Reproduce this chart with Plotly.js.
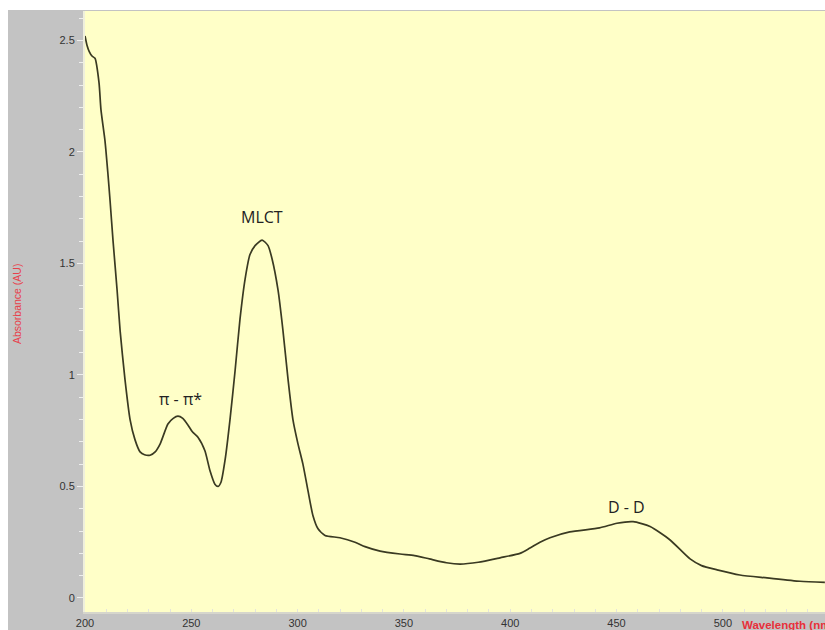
<!DOCTYPE html>
<html>
<head>
<meta charset="utf-8">
<script src="https://cdn.plot.ly/plotly-3.0.1.min.js"></script>
<style>
  html, body { margin: 0; padding: 0; background: #ffffff; width: 825px; height: 630px; overflow: hidden; }
  #chart { position: absolute; left: 8px; top: 10px; width: 817px; height: 620px; }
</style>
</head>
<body>
<div id="chart"></div>
<script>
// UV-Vis absorption spectrum
const wavelength = [
  200, 200.9, 202, 203.3, 204.7, 206.6, 207.5, 209.4, 210.8, 211.8,
  213.2, 215.1, 216.5, 218.8, 221.2, 223.5, 225.9, 228, 230.6, 233,
  235.3, 239, 241.5, 243.7, 246, 248.4, 250.5, 253.2, 256.4, 258.8,
  261.1, 262.6, 264, 265.9, 268.2, 270.6, 272.9, 275.3, 277.6, 280,
  283.3, 286.1, 288, 290.8, 293.1, 295.5, 297.8, 300.2, 302.5, 304.9,
  307.2, 309.6, 312.9, 319.9, 327, 331.7, 338.8, 348.2, 355, 362,
  370, 376.4, 385, 395.2, 404.6, 409.3, 414, 418.7, 428, 442,
  450.2, 457.8, 465.8, 475.2, 484.6, 490, 497.3, 508, 520.8,
  536.3, 548
];
const absorbance = [
  2.52, 2.48, 2.45, 2.43, 2.42, 2.31, 2.19, 2.05, 1.90, 1.78,
  1.60, 1.38, 1.20, 0.98, 0.80, 0.71, 0.655, 0.642, 0.640, 0.655,
  0.69, 0.78, 0.805, 0.815, 0.805, 0.776, 0.745, 0.72, 0.66, 0.57,
  0.51, 0.50, 0.52, 0.62, 0.80, 1.02, 1.25, 1.43, 1.54, 1.58,
  1.605, 1.58, 1.52, 1.38, 1.20, 0.98, 0.80, 0.69, 0.60, 0.48,
  0.37, 0.31, 0.28, 0.27, 0.25, 0.23, 0.21, 0.197, 0.19, 0.175,
  0.158, 0.152, 0.16, 0.18, 0.20, 0.224, 0.25, 0.27, 0.296, 0.314,
  0.335, 0.342, 0.32, 0.26, 0.175, 0.145, 0.126, 0.103, 0.09,
  0.075, 0.07
];

// Band labels and where they sit
const bandLabels = ["π - π*", "MLCT", "D - D"];
const bandLabelX = [244.7, 283.3, 454.5];
const bandLabelY = [0.892, 1.708, 0.408];

const xTickVals = [200, 250, 300, 350, 400, 450, 500];
const yTickVals = [0, 0.5, 1, 1.5, 2, 2.5];
const yTickText = ["0", "0.5", "1", "1.5", "2", "2.5"];

const trace = {
  x: wavelength,
  y: absorbance,
  type: "scatter",
  mode: "lines",
  line: { color: "#3a3a22", width: 1.7, shape: "spline", smoothing: 0.6 },
  hoverinfo: "skip"
};

const annotations = bandLabels.map((t, i) => ({
  x: bandLabelX[i], y: bandLabelY[i], xref: "x", yref: "y",
  text: t, showarrow: false,
  font: { family: "Open Sans, Noto Sans, sans-serif", size: 16, color: "#222222" }
}));

annotations.push({
  x: 0.885, y: -0.0216, xref: "paper", yref: "paper",
  xanchor: "left", yanchor: "middle",
  text: "<b>Wavelength (nm)</b>", showarrow: false,
  font: { family: "Liberation Sans, Arial, sans-serif", size: 11.5, color: "#e8303a" }
});
annotations.push({
  x: -0.0919, y: 0.514, xref: "paper", yref: "paper",
  xanchor: "center", yanchor: "middle", textangle: -90,
  text: "Absorbance (AU)", showarrow: false,
  font: { family: "Liberation Sans, Arial, sans-serif", size: 10.5, color: "#e8404a" }
});

const layout = {
  width: 817,
  height: 620,
  margin: { l: 77, r: 0, t: 1, b: 18, pad: 0 },
  paper_bgcolor: "#c3c3c3",
  plot_bgcolor: "#ffffc8",
  showlegend: false,
  font: { family: "Liberation Sans, Arial, sans-serif", size: 11, color: "#333333" },
  xaxis: {
    range: [200, 548.06],
    tickmode: "array",
    tickvals: xTickVals,
    ticktext: xTickVals.map(String),
    ticks: "inside",
    ticklen: 3,
    tickcolor: "#e4e4dc",
    tickwidth: 1,
    minor: { dtick: 10, ticks: "inside", ticklen: 3, tickcolor: "#e4e4dc", tickwidth: 1, showgrid: false },
    showgrid: false,
    zeroline: false,
    showline: true,
    linecolor: "#d6d6cc",
    linewidth: 2,
    tickfont: { size: 11, color: "#333333" },
    fixedrange: true
  },
  yaxis: {
    range: [-0.063, 2.632],
    tickmode: "array",
    tickvals: yTickVals,
    ticktext: yTickText,
    ticks: "outside",
    ticklen: 6,
    tickcolor: "#eeeeee",
    tickwidth: 1,
    minor: { dtick: 0.1, ticks: "outside", ticklen: 4, tickcolor: "#eeeeee", tickwidth: 1, showgrid: false },
    showgrid: false,
    zeroline: false,
    showline: true,
    linecolor: "#efefdc",
    linewidth: 2,
    tickfont: { size: 11, color: "#333333" },
    fixedrange: true
  },
  annotations: annotations
};

Plotly.newPlot("chart", [trace], layout, { displayModeBar: false, staticPlot: true });
</script>
</body>
</html>
